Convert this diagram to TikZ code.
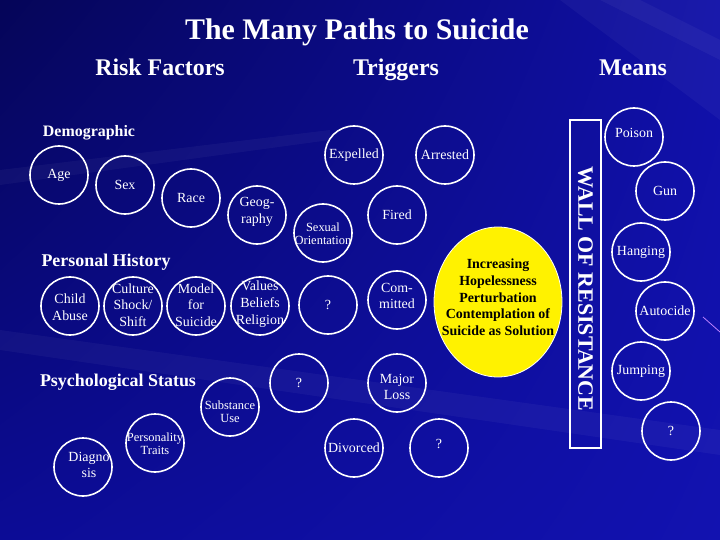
\documentclass[tikz,border=0pt]{standalone}
\usepackage{fontspec}
\setmainfont{Liberation Serif}
\usetikzlibrary{shapes.geometric,shadings}
\definecolor{bgA}{RGB}{5,5,88}
\definecolor{bgB}{RGB}{16,16,168}
\definecolor{bgC}{RGB}{12,12,150}
\definecolor{bgD}{RGB}{18,18,176}
\definecolor{ray}{RGB}{190,130,255}
\tikzset{
  circ/.style={circle, draw=white, line width=1.6bp, minimum size=58bp, inner sep=0pt,
    text=white, align=center, font=\fontsize{14}{16.8}\selectfont},
  lbl/.style={text=white, align=center, inner sep=0pt, font=\fontsize{14}{16.8}\selectfont},
  lblsm/.style={lbl, font=\fontsize{12.5}{13.5}\selectfont},
  headtxt/.style={text=white, inner sep=0pt, anchor=base, font=\fontsize{24}{28}\selectfont\bfseries},
  secttxt/.style={text=white, inner sep=0pt, font=\fontsize{18}{21}\selectfont\bfseries},
  streak/.style={fill=white, opacity=0.04}
}
\begin{document}
\begin{tikzpicture}[x=1bp, y=-1bp]
\path[use as bounding box] (0,0) rectangle (720,540);
\shade[upper left=bgA, upper right=bgB, lower left=bgC, lower right=bgD] (0,0) rectangle (720,540);
% faint background streaks
\fill[streak] (0,330) -- (720,430) -- (720,455) -- (0,350) -- cycle;
\fill[streak] (720,0) -- (560,0) -- (720,120) -- cycle;
\fill[streak] (720,60) -- (600,0) -- (640,0) -- (720,40) -- cycle;
\fill[streak] (0,170) -- (330,130) -- (330,140) -- (0,185) -- cycle;
\draw[ray, line width=0.8bp] (703,317) -- (720,332);

% headings
\node[text=white, inner sep=0pt, anchor=base, font=\fontsize{30}{34}\selectfont\bfseries] (title) at (357,40) {The Many Paths to Suicide};
\node[headtxt] (risk) at (160,76) {Risk Factors};
\node[headtxt] (trig) at (396,76) {Triggers};
\node[headtxt] (means) at (633,76) {Means};
\node[text=white, inner sep=0pt, font=\fontsize{16}{19}\selectfont\bfseries] (demo) at (89,133) {Demographic};
\node[secttxt] (pers) at (106,262) {Personal History};
\node[secttxt] (psych) at (118,382) {Psychological Status};

% demographic
\node[circ] (age) at (59,175) {Age};
\node[circ] (sex) at (125,185) {Sex};
\node[circ] (race) at (191,198) {Race};
\node[circ] (geo) at (257,215) {};
\node[lbl] (geotxt) at (257,212) {Geog-\\raphy};
\node[circ] (sexor) at (323,233) {};
\node[lblsm] (sexortxt) at (323,234) {Sexual\\Orientation};

% personal history
\node[circ] (abuse) at (70,306) {};
\node[lbl] (abusetxt) at (70,307.5) {Child\\Abuse};
\node[circ] (cult) at (133,306) {};
\node[lbl] (culttxt) at (133,305) {Culture\\Shock/\\Shift};
\node[circ] (model) at (196,306) {};
\node[lbl] (modeltxt) at (196,305) {Model\\for\\Suicide};
\node[circ] (vals) at (260,306) {};
\node[lbl] (valstxt) at (260,304) {Values\\Beliefs\\Religion};
\node[circ] (qa) at (328,305) {?};

% psychological status
\node[circ] (subst) at (230,407) {};
\node[lblsm] (substtxt) at (230,412) {Substance\\Use};
\node[circ] (perso) at (155,443) {};
\node[lblsm] (persotxt) at (155,444) {Personality\\Traits};
\node[circ] (diag) at (83,467) {};
\node[lbl] (diagtxt) at (89,465) {Diagno\\sis};

% triggers
\node[circ] (expel) at (354,155) {Expelled};
\node[circ] (arrest) at (445,155) {Arrested};
\node[circ] (fired) at (397,215) {Fired};
\node[circ] (commit) at (397,300) {};
\node[lbl] (committxt) at (397,296) {Com-\\mitted};
\node[circ] (qb) at (299,383) {?};
\node[circ] (loss) at (397,383) {};
\node[lbl] (losstxt) at (397,387) {Major\\Loss};
\node[circ] (divorce) at (354,448) {Divorced};
\node[circ] (qc) at (439,448) {};
\node[lbl] (qctxt) at (439,444) {?};

% central ellipse
\node[ellipse, draw=white, line width=0.8bp, fill=yellow, minimum width=128bp, minimum height=150bp, inner sep=0pt] (hope) at (498,302) {};
\node[align=center, inner sep=0pt, text=black, font=\fontsize{14}{16.7}\selectfont\bfseries] (hopetxt) at (498,297.5) {Increasing\\Hopelessness\\Perturbation\\Contemplation of\\Suicide as Solution};

% wall
\node[draw=white, line width=1.6bp, minimum width=31bp, minimum height=328bp, inner sep=0pt] (wall) at (585.5,284) {};
\node[rotate=-90, text=white, inner sep=0pt, font=\fontsize{22}{26}\selectfont\bfseries] (walltxt) at (585.5,289) {WALL OF RESISTANCE};

% means
\node[circ] (poison) at (634,137) {};
\node[lbl] (poisontxt) at (634,133) {Poison};
\node[circ] (gun) at (665,191) {Gun};
\node[circ] (hang) at (641,252) {Hanging};
\node[circ] (auto) at (665,311) {Autocide};
\node[circ] (jump) at (641,371) {Jumping};
\node[circ] (qd) at (671,431) {?};
\end{tikzpicture}
\end{document}
